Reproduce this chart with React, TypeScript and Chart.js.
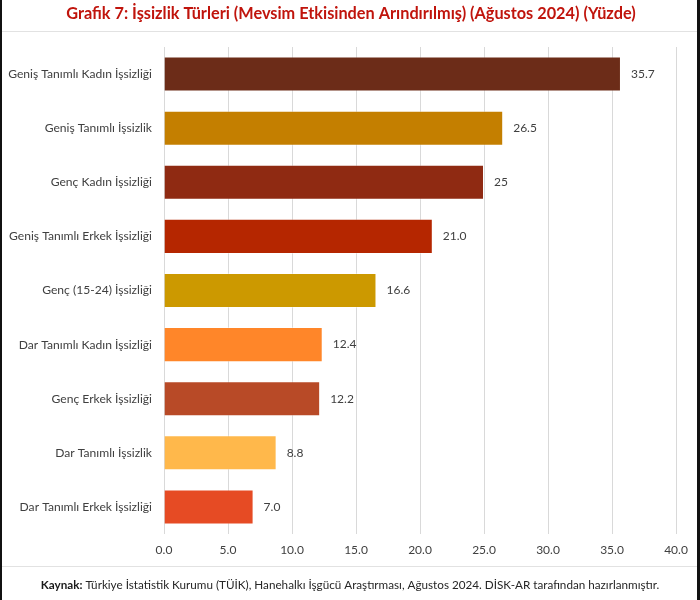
import React, { useEffect, useRef } from "react";
import { Chart, registerables } from "chart.js";

Chart.register(...registerables);

const categories = [
  "Geniş Tanımlı Kadın İşsizliği",
  "Geniş Tanımlı İşsizlik",
  "Genç Kadın İşsizliği",
  "Geniş Tanımlı Erkek İşsizliği",
  "Genç (15-24) İşsizliği",
  "Dar Tanımlı Kadın İşsizliği",
  "Genç Erkek İşsizliği",
  "Dar Tanımlı İşsizlik",
  "Dar Tanımlı Erkek İşsizliği",
];
const values = [35.7, 26.5, 25, 21.0, 16.6, 12.4, 12.2, 8.8, 7.0];
const valueLabels = ["35.7", "26.5", "25", "21.0", "16.6", "12.4", "12.2", "8.8", "7.0"];
const barColors = [
  "#6C2C18",
  "#C47F00",
  "#8F2A12",
  "#B52600",
  "#CC9900",
  "#FF8629",
  "#B84A27",
  "#FFB84B",
  "#E64B24",
];
const titleText = "Grafik 7: İşsizlik Türleri (Mevsim Etkisinden Arındırılmış) (Ağustos 2024) (Yüzde)";
const sourceBold = "Kaynak:";
const sourceText = " Türkiye İstatistik Kurumu (TÜİK), Hanehalkı İşgücü Araştırması, Ağustos 2024. DİSK-AR tarafından hazırlanmıştır.";

const FONT = "Lato, 'Open Sans', sans-serif";

export default function App() {
  const ref = useRef<HTMLCanvasElement | null>(null);

  useEffect(() => {
    document.body.style.margin = "0";
    const canvas = ref.current;
    if (!canvas) return;

    const decor = {
      id: "decor",
      beforeDraw(chart: any) {
        const ctx = chart.ctx;
        ctx.save();
        ctx.fillStyle = "#ffffff";
        ctx.fillRect(0, 0, chart.width, chart.height);
        ctx.restore();
      },
      afterDraw(chart: any) {
        const ctx = chart.ctx;
        ctx.save();
        // title
        ctx.font = `bold 16.3px ${FONT}`;
        ctx.fillStyle = "#C0140C";
        ctx.textAlign = "center";
        ctx.textBaseline = "middle";
        ctx.fillText(titleText, 351, 14);
        // separators
        ctx.strokeStyle = "#E2E2E2";
        ctx.lineWidth = 1;
        ctx.beginPath();
        ctx.moveTo(0, 31.5);
        ctx.lineTo(700, 31.5);
        ctx.moveTo(0, 566.5);
        ctx.lineTo(700, 566.5);
        ctx.stroke();
        // side borders
        ctx.fillStyle = "#111111";
        ctx.fillRect(0, 0, 2, 600);
        ctx.fillRect(697, 0, 3, 600);
        // source
        ctx.textAlign = "left";
        ctx.font = `bold 11.7px ${FONT}`;
        const wb = ctx.measureText(sourceBold).width;
        ctx.font = `11.7px ${FONT}`;
        const wt = ctx.measureText(sourceText).width;
        const start = 350 - (wb + wt) / 2;
        ctx.fillStyle = "#1a1a1a";
        ctx.font = `bold 11.7px ${FONT}`;
        ctx.fillText(sourceBold, start, 585);
        ctx.font = `11.7px ${FONT}`;
        ctx.fillStyle = "#262626";
        ctx.fillText(sourceText, start + wb, 585);
        // data labels
        const meta = chart.getDatasetMeta(0);
        ctx.font = `12px ${FONT}`;
        ctx.fillStyle = "#404040";
        ctx.textAlign = "left";
        ctx.textBaseline = "middle";
        meta.data.forEach((bar: any, i: number) => {
          ctx.fillText(valueLabels[i], bar.x + 10, bar.y);
        });
        ctx.restore();
      },
    };

    const chart = new Chart(canvas, {
      type: "bar",
      data: {
        labels: categories,
        datasets: [
          {
            data: values,
            backgroundColor: barColors,
            borderColor: "rgba(255,255,255,0.35)",
            borderWidth: 1,
            barPercentage: 0.8,
            categoryPercentage: 0.81,
          },
        ],
      },
      options: {
        indexAxis: "y",
        animation: false,
        responsive: false,
        maintainAspectRatio: false,
        layout: { padding: { top: 47, right: 24, left: 0, bottom: 0 } },
        plugins: {
          legend: { display: false },
          tooltip: { enabled: false },
          title: { display: false },
        },
        scales: {
          x: {
            min: 0,
            max: 40,
            ticks: {
              stepSize: 5,
              padding: 9,
              color: "#404040",
              font: { family: FONT, size: 12 },
              callback: (v: any) => Number(v).toFixed(1),
            },
            grid: { color: "#D9D9D9", drawTicks: false },
            border: { display: false },
            afterFit: (scale: any) => {
              scale.height = 66;
            },
          },
          y: {
            ticks: {
              padding: 12,
              color: "#404040",
              font: { family: FONT, size: 12.1 },
            },
            grid: { display: false, drawTicks: false },
            border: { display: false },
            afterFit: (scale: any) => {
              scale.width = 164;
            },
          },
        },
      },
      plugins: [decor],
    });

    return () => chart.destroy();
  }, []);

  return (
    <div style={{ width: 700, height: 600 }}>
      <canvas ref={ref} width={700} height={600} style={{ display: "block" }} />
    </div>
  );
}
